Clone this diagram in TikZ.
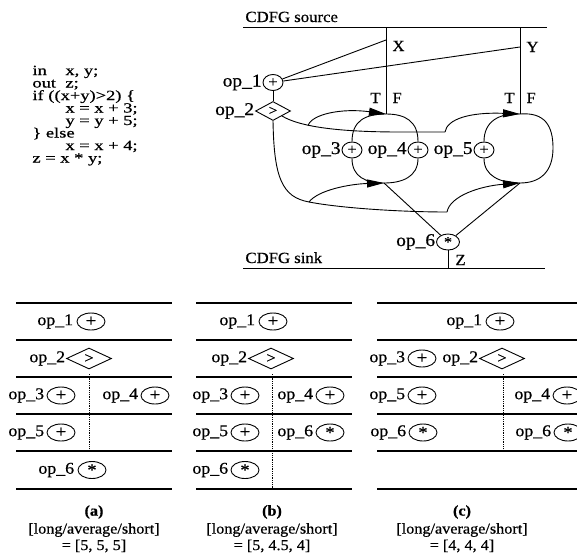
\documentclass[tikz,border=0pt]{standalone}
\usepackage{fontspec}
\setmainfont{Liberation Serif}[FakeStretch=1.08,FakeBold=0.6]
\newfontfamily\codefont{Liberation Serif}[FakeStretch=1.32,FakeBold=0.6]
\usetikzlibrary{shapes.geometric,arrows.meta}
\begin{document}
\begin{tikzpicture}[x=1pt,y=-1pt,line width=0.9pt,
  every node/.style={inner sep=0pt},
  gop/.style={ellipse,draw,minimum width=20pt,minimum height=16pt,font=\fontsize{15}{15}\selectfont},
  gcmp/.style={diamond,draw,minimum width=35pt,minimum height=19pt,font=\fontsize{14}{14}\selectfont},
  glab/.style={anchor=east,font=\fontsize{18}{18}\selectfont},
  txt/.style={anchor=base west,font=\fontsize{15.5}{15.5}\selectfont},
  txtr/.style={anchor=base east,font=\fontsize{15.5}{15.5}\selectfont},
  arr/.style={-{Triangle[length=17pt,width=8pt]}},
  tline/.style={line width=1.1pt},
  tdiv/.style={densely dotted,line width=0.8pt},
  tcirc/.style={ellipse,draw,minimum width=28pt,minimum height=17pt,font=\fontsize{17}{17}\selectfont},
  tcmp/.style={diamond,draw,minimum width=45pt,minimum height=21pt,font=\fontsize{15}{15}\selectfont},
  tlab/.style={anchor=east,font=\fontsize{16.5}{16.5}\selectfont},
  capt/.style={font=\fontsize{15}{15}\selectfont},
]
\useasboundingbox (0,0) rectangle (577,557);

% ---------- source code ----------
\node[anchor=base west,font=\fontsize{14}{12.4}\codefont] (code) at (32,75) {%
  \vtop{\baselineskip=12.5pt\lineskiplimit=-\maxdimen
    \hbox{\makebox[33pt][l]{in}x, y;}
    \hbox{\makebox[33pt][l]{out}z;}
    \hbox{if ((x+y)>2) \{}
    \hbox{\hspace*{33pt}x = x + 3;}
    \hbox{\hspace*{33pt}y = y + 5;}
    \hbox{\} else}
    \hbox{\hspace*{33pt}x = x + 4;}
    \hbox{z = x * y;}}};

% ---------- CDFG ----------
\coordinate (srcL) at (243,27);  \coordinate (srcR) at (547,27);
\coordinate (snkL) at (243,268); \coordinate (snkR) at (545,268);
\coordinate (xsrc) at (386,27);  \coordinate (ysrc) at (520,27);
\coordinate (xin) at (386,40);   \coordinate (yin) at (520,47);
\coordinate (xtop) at (386,114); \coordinate (ytop) at (520,114);
\coordinate (xbot) at (384,183); \coordinate (ybot) at (520,183);
\coordinate (ctop1) at (308,125.5); \coordinate (ctop2) at (445,132);
\coordinate (cbot1) at (309,202);   \coordinate (cbot2) at (447,212);
\coordinate (zsnk) at (448,268);

\node[txt] (srclab) at (245,22) {CDFG source};
\node[txt] (snklab) at (245,263) {CDFG sink};
\draw (srcL) -- (srcR);
\draw (snkL) -- (snkR);

\node[gop] (op1) at (273,82.5) {+};
\node[gcmp] (op2) at (273,111) {>};
\node[gop] (op3) at (352,150) {+};
\node[gop] (op4) at (418,150) {+};
\node[gop] (op5) at (484,150) {+};
\node[gop,minimum width=23pt] (op6) at (448,242) {\raisebox{-3.5pt}{*}};

\node[glab] (l1) at ([xshift=-0.5pt]op1.west) {op\_1};
\node[glab] (l2) at ([xshift=-0.5pt]op2.west) {op\_2};
\node[glab] (l3) at ([xshift=-0.5pt]op3.west) {op\_3};
\node[glab] (l4) at ([xshift=-0.5pt]op4.west) {op\_4};
\node[glab] (l5) at ([xshift=-0.5pt]op5.west) {op\_5};
\node[glab] (l6) at ([xshift=-0.5pt]op6.west) {op\_6};

\node[txt] (lx) at (392,51) {X};
\node[txt] (ly) at (526,52) {Y};
\node[txtr] (tx) at (381,103) {T};
\node[txt] (fx) at (392,103) {F};
\node[txtr] (ty) at (515,103) {T};
\node[txt] (fy) at (526,103) {F};
\node[txt] (lz) at (455,265) {Z};

% inputs
\draw (xsrc) -- (xtop);
\draw (ysrc) -- (ytop);
\draw (op1) -- (xin);
\draw (op1) -- (yin);
\draw (op1) -- (op2);

% condition to the upper selects
\draw (op2.south east) .. controls (300,127) and (340,132) .. (400,132) -- (ctop2);
\draw[arr] (ctop1) .. controls (312,114) and (342,108) .. (xtop);
\draw[arr] (ctop2) .. controls (447,119) and (470,112) .. (ytop);

% condition to the lower merges
\draw (op2.south) .. controls (274,178) and (282,197) .. (cbot1)
      .. controls (340,208) and (400,212) .. (cbot2);
\draw[arr] (cbot1) .. controls (318,190) and (350,184) .. (xbot);
\draw[arr] (cbot2) .. controls (450,196) and (480,186) .. (ybot);

% branches of x
\draw (op3.north) .. controls (352,121) and (365,114) .. (xtop)
      .. controls (405,114) and (418,121) .. (op4.north);
\draw (op3.south) .. controls (352,177) and (366,183) .. (xbot)
      .. controls (402,183) and (418,177) .. (op4.south);

% branches of y
\draw (op5.north) .. controls (484,122) and (498,113) .. (ytop);
\draw (ytop) .. controls (545,112) and (553,126) .. (553,148)
      .. controls (553,172) and (540,183) .. (ybot);
\draw (op5.south) .. controls (484,176) and (500,183) .. (ybot);

% multiplication and output
\draw (xbot) -- (op6);
\draw (ybot) -- (op6);
\draw (op6) -- (zsnk);

% ---------- schedule (a) ----------
\foreach \yy in {303,340,377,414,451,489} \draw[tline] (16,\yy) -- (172,\yy);
\node[tcirc] (a1) at (91,321.5) {+};
\node[tcmp] (a2) at (89,358.5) {>};
\node[tcirc] (a3) at (61,395.5) {+};
\node[tcirc] (a4) at (155,395.5) {+};
\node[tcirc] (a5) at (61,432.5) {+};
\node[tcirc] (a6) at (92,470) {\raisebox{-4pt}{*}};
\node[tlab] (la1) at ([xshift=-3pt]a1.west) {op\_1};
\node[tlab] (la2) at ([xshift=-0.5pt]a2.west) {op\_2};
\node[tlab] (la3) at ([xshift=-2pt]a3.west) {op\_3};
\node[tlab] (la4) at ([xshift=-2pt]a4.west) {op\_4};
\node[tlab] (la5) at ([xshift=-2pt]a5.west) {op\_5};
\node[tlab] (la6) at ([xshift=-3pt]a6.west) {op\_6};
\coordinate (ad1) at (89,374); \coordinate (ad2) at (89,451);
\draw[tdiv] (ad1) -- (ad2);
\node[capt,font=\fontsize{15}{15}\selectfont\bfseries] (ca) at (94,512) {(a)};
\node[capt] (la) at (94,530) {[long/average/short]};
\node[capt] (va) at (94,546) {= [5, 5, 5]};

% ---------- schedule (b) ----------
\foreach \yy in {303,340,377,414,451,489} \draw[tline] (196,\yy) -- (352,\yy);
\node[tcirc] (b1) at (273,321.5) {+};
\node[tcmp] (b2) at (271,358.5) {>};
\node[tcirc] (b3) at (245,395.5) {+};
\node[tcirc] (b4) at (330,395.5) {+};
\node[tcirc] (b5) at (245,432.5) {+};
\node[tcirc] (b6) at (330,432.5) {\raisebox{-4pt}{*}};
\node[tcirc] (b7) at (245,470) {\raisebox{-4pt}{*}};
\node[tlab] (lb1) at ([xshift=-3pt]b1.west) {op\_1};
\node[tlab] (lb2) at ([xshift=-0.5pt]b2.west) {op\_2};
\node[tlab] (lb3) at ([xshift=-2pt]b3.west) {op\_3};
\node[tlab] (lb4) at ([xshift=-2pt]b4.west) {op\_4};
\node[tlab] (lb5) at ([xshift=-2pt]b5.west) {op\_5};
\node[tlab] (lb6) at ([xshift=-2pt]b6.west) {op\_6};
\node[tlab] (lb7) at ([xshift=-2pt]b7.west) {op\_6};
\coordinate (bd1) at (272,374); \coordinate (bd2) at (272,489);
\draw[tdiv] (bd1) -- (bd2);
\node[capt,font=\fontsize{15}{15}\selectfont\bfseries] (cb) at (272,512) {(b)};
\node[capt] (lbb) at (272,530) {[long/average/short]};
\node[capt] (vb) at (272,546) {= [5, 4.5, 4]};

% ---------- schedule (c) ----------
\foreach \yy in {303,340,377,414,451,489} \draw[tline] (377,\yy) -- (577,\yy);
\node[tcirc] (c1) at (500,321.5) {+};
\node[tcirc] (cc3) at (422,358.5) {+};
\node[tcmp] (cc2) at (502,358.5) {>};
\node[tcirc] (cc5) at (422,395.5) {+};
\node[tcirc] (cc4) at (567,395.5) {+};
\node[tcirc] (cc6) at (423,432.5) {\raisebox{-4pt}{*}};
\node[tcirc] (cc7) at (568,432.5) {\raisebox{-4pt}{*}};
\node[tlab] (lc1) at ([xshift=-3pt]c1.west) {op\_1};
\node[tlab] (lc3) at ([xshift=-2pt]cc3.west) {op\_3};
\node[tlab] (lc2) at ([xshift=-0.5pt]cc2.west) {op\_2};
\node[tlab] (lc5) at ([xshift=-2pt]cc5.west) {op\_5};
\node[tlab] (lc4) at ([xshift=-2pt]cc4.west) {op\_4};
\node[tlab] (lc6) at ([xshift=-2pt]cc6.west) {op\_6};
\node[tlab] (lc7) at ([xshift=-2pt]cc7.west) {op\_6};
\coordinate (cd1) at (503,374); \coordinate (cd2) at (503,451);
\draw[tdiv] (cd1) -- (cd2);
\node[capt,font=\fontsize{15}{15}\selectfont\bfseries] (ccap) at (462,512) {(c)};
\node[capt] (lcc) at (462,530) {[long/average/short]};
\node[capt] (vc) at (462,546) {= [4, 4, 4]};
\end{tikzpicture}
\end{document}
